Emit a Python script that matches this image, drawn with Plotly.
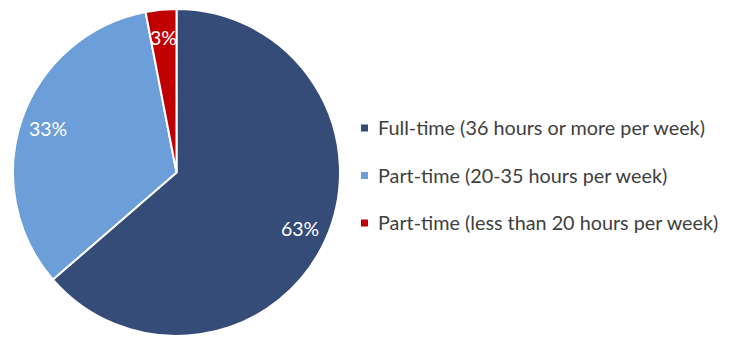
import math
import plotly.graph_objects as go

labels = [
    "Full-time (36 hours or more per week)",
    "Part-time (20-35 hours per week)",
    "Part-time (less than 20 hours per week)",
]
values = [63, 33, 3]
colors = ["#354C78", "#6C9FDA", "#C00000"]

W, H = 731, 338
cx, cy, r = 176.5, 172.5, 163.5

fig = go.Figure(
    go.Pie(
        labels=labels,
        values=values,
        sort=False,
        direction="clockwise",
        rotation=0,
        marker=dict(colors=colors, line=dict(color="white", width=2)),
        textinfo="none",
        hoverinfo="label+value",
        domain=dict(x=[(cx - r) / W, (cx + r) / W], y=[(H - cy - r) / H, (H - cy + r) / H]),
        showlegend=False,
    )
)

# value labels placed at the middle angle of each slice
total = sum(values)
annotations = []
start = 0.0
for v in values:
    mid = start + v / total * 180.0
    ang = math.radians(mid)
    x = cx + 0.83 * r * math.sin(ang)
    y = cy - 0.83 * r * math.cos(ang)
    annotations.append(dict(
        x=x / W, y=1 - y / H, xref="paper", yref="paper", showarrow=False,
        xanchor="center", yanchor="middle",
        text=f"{v}%", font=dict(family="Lato, sans-serif", size=19.5, color="white"),
    ))
    start += v / total * 360.0

# legend: colored squares with labels
shapes = []
leg_x, leg_y0, leg_dy = 361, 127, 47.5
for i, (lab, col) in enumerate(zip(labels, colors)):
    y = leg_y0 + i * leg_dy
    shapes.append(dict(
        type="rect", xref="paper", yref="paper",
        x0=leg_x / W, x1=(leg_x + 7) / W, y0=1 - (y + 4.5) / H, y1=1 - (y - 2.5) / H,
        fillcolor=col, line=dict(width=0),
    ))
    annotations.append(dict(
        x=(leg_x + 15) / W, y=1 - y / H, xref="paper", yref="paper", showarrow=False,
        xanchor="left", yanchor="middle", text=lab,
        font=dict(family="Lato, sans-serif", size=19.8, color="#404040"),
    ))

fig.update_layout(
    width=W, height=H,
    margin=dict(l=0, r=0, t=0, b=0),
    paper_bgcolor="white", plot_bgcolor="white",
    annotations=annotations, shapes=shapes,
)

fig.write_html("out.html")
